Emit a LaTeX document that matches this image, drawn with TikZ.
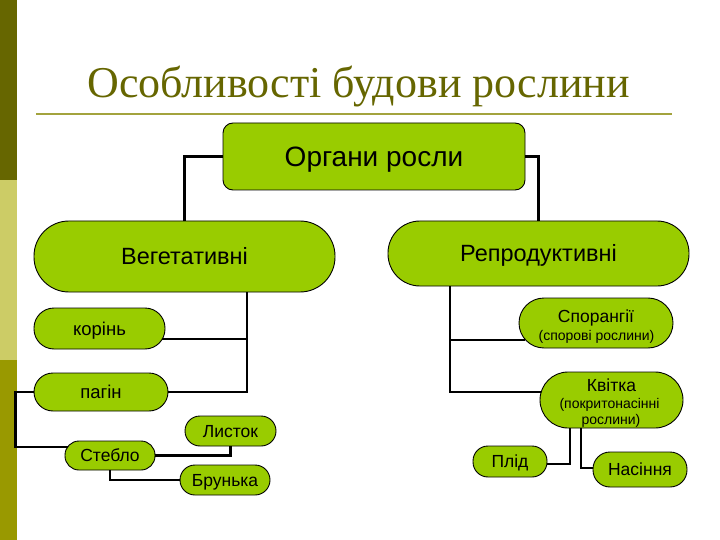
\documentclass[tikz,border=0pt]{standalone}
\usepackage{fontspec}
\setmainfont{Liberation Sans}
\newfontfamily\titlefont{Liberation Serif}
\definecolor{leaf}{HTML}{99CC00}
\definecolor{olivedark}{HTML}{666600}
\definecolor{olivemid}{HTML}{CCCC66}
\definecolor{olivelow}{HTML}{999900}
\definecolor{ruleline}{HTML}{A3A33D}
\tikzset{
  box/.style={draw=black, line width=0.9pt, fill=leaf, inner sep=0pt,
    font=\fontsize{#1}{#1}\selectfont, text height={0.716*#1pt}, text depth=0pt},
  box/.default=17.5,
  lbl/.style={inner sep=0pt, anchor=base},
  conn/.style={line width=2.2pt, draw=black}
}
\begin{document}
\begin{tikzpicture}[x=1pt,y=-1pt]
\useasboundingbox (0,0) rectangle (720,540);
\fill[white] (0,0) rectangle (720,540);
% side bars
\fill[olivedark] (0,0) rectangle (17,180);
\fill[olivemid] (0,180) rectangle (17,360);
\fill[olivelow] (0,360) rectangle (17,540);
% title
\node[lbl, font=\titlefont\fontsize{44}{50}\selectfont, text=olivedark] (title) at (358.5,98) {Особливості будови рослини};
\draw[ruleline, line width=2pt] (36,114) -- (672,114);

% nodes
\node[box=28, minimum width=302pt, minimum height=67pt, rounded corners=10pt] (top) at (374,156.5) {Органи росли};
\node[box=23.5, minimum width=301pt, minimum height=71pt, rounded corners=35pt] (veg) at (184.5,256.5) {Вегетативні};
\node[box=23.5, minimum width=301pt, minimum height=65pt, rounded corners=32pt] (rep) at (538.5,253.5) {Репродуктивні};
\node[box=18.5, minimum width=131pt, minimum height=41pt, rounded corners=20pt] (korin) at (99.5,328.5) {корінь};
\node[box=18.5, minimum width=134pt, minimum height=38pt, rounded corners=19pt] (pagin) at (101,392) {пагін};
\node[box, minimum width=90pt, minimum height=29pt, rounded corners=14pt] (steblo) at (110,455.5) {Стебло};
\node[box, minimum width=91pt, minimum height=30pt, rounded corners=15pt] (lystok) at (230.5,431) {Листок};
\node[box, minimum width=90pt, minimum height=30pt, rounded corners=15pt] (brunka) at (225,480) {Брунька};
\node[box, minimum width=154pt, minimum height=50pt, rounded corners=25pt] (spor) at (596,323) {};
\node[lbl, font=\fontsize{17.5}{20}\selectfont] (sporA) at (596,322) {Спорангії};
\node[lbl, font=\fontsize{14}{16}\selectfont] (sporB) at (596.5,340) {(спорові рослини)};
\node[box, minimum width=143pt, minimum height=56pt, rounded corners=28pt] (kvitka) at (611.5,400) {};
\node[lbl, font=\fontsize{17.5}{20}\selectfont] (kvA) at (611.5,391) {Квітка};
\node[lbl, font=\fontsize{14}{16}\selectfont] (kvB) at (609.5,408) {(покритонасінні};
\node[lbl, font=\fontsize{14}{16}\selectfont] (kvC) at (611,424) {рослини)};
\node[box, minimum width=74pt, minimum height=31pt, rounded corners=15pt] (plid) at (510,461.5) {Плід};
\node[box, minimum width=94pt, minimum height=35pt, rounded corners=17pt] (nasin) at (640,469.5) {Насіння};

% connectors
\draw[conn] (top.west) -| (veg.north);
\draw[conn] (top.east) -| (rep.north);
\coordinate (vt) at ([xshift=62.5pt]veg.south);
\draw[conn] (vt) |- (pagin.east);
\draw[conn] ([xshift=-3pt,yshift=-10.5pt]korin.east) -| (vt);
\coordinate (pl) at ([xshift=-18pt]pagin.west);
\draw[conn] (pagin.west) -- (pl) |- ([xshift=3pt,yshift=8.5pt]steblo.west);
\draw[conn] (steblo.east) -| (lystok.south);
\draw[conn] (steblo.south) |- (brunka.west);
\coordinate (rt) at ([xshift=-88.5pt]rep.south);
\draw[conn, line width=2.8pt] (rt) |- ([xshift=6pt,yshift=-17pt]spor.west);
\draw[conn] (rt) |- ([xshift=1pt,yshift=8pt]kvitka.west);
\draw[conn] ([xshift=-41.5pt]kvitka.south) |- ([yshift=-2.5pt]plid.east);
\draw[conn] ([xshift=-30.5pt]kvitka.south) |- ([yshift=1.5pt]nasin.west);
\end{tikzpicture}
\end{document}
